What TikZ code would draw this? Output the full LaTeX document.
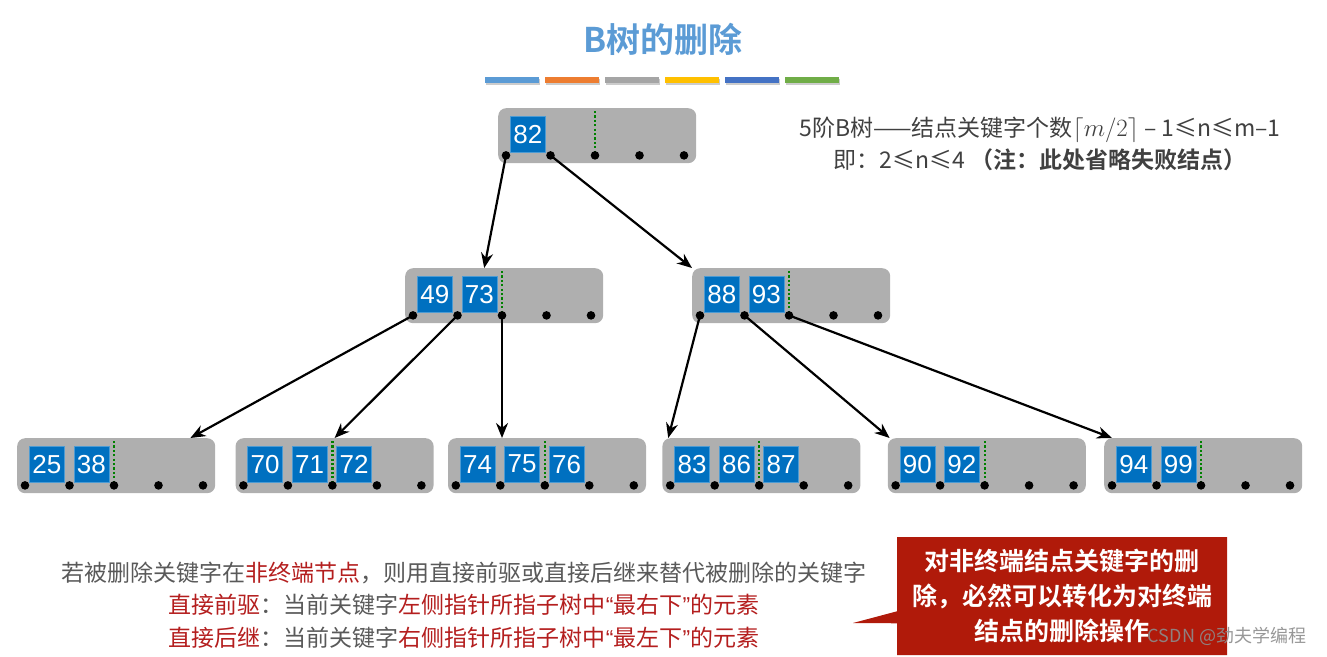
\documentclass[tikz,border=0pt]{standalone}
\usepackage{fontspec}
\setmainfont{Liberation Sans}
\newfontfamily\cjk{Noto Sans CJK SC}[BoldFont={Noto Sans CJK SC Bold}]
\usetikzlibrary{arrows.meta,positioning,shapes.callouts}

\definecolor{titleblue}{RGB}{91,155,213}
\definecolor{barblue}{RGB}{91,155,213}
\definecolor{barorange}{RGB}{237,125,49}
\definecolor{bargray}{RGB}{165,165,165}
\definecolor{baryellow}{RGB}{255,192,0}
\definecolor{bardblue}{RGB}{68,114,196}
\definecolor{bargreen}{RGB}{112,173,71}
\definecolor{nodegray}{RGB}{175,175,175}
\definecolor{keyblue}{RGB}{0,112,192}
\definecolor{sepgreen}{RGB}{0,128,0}
\definecolor{ruletext}{RGB}{64,64,64}
\definecolor{notegray}{RGB}{89,89,89}
\definecolor{notered}{RGB}{180,30,30}
\definecolor{hintred}{RGB}{176,26,10}

% keys, separator and pointer slots of one B-tree node
\newcommand{\btnode}[2]{%
  \foreach \i in {0,...,4}
    \coordinate (#1-p\i) at ([xshift={8pt+\i*44.5pt}, yshift=8pt]#1.south west);
  \draw[sepline] ([yshift=-3pt]#1-p2 |- #1.north) -- (#1-p2);
  \foreach \k [count=\j from 0] in {#2}
    \node[keybox, anchor=south west] (#1-k\j) at ([xshift=4pt, yshift=3pt]#1-p\j) {\k};
  \foreach \i in {0,...,4}
    \fill[ptr] (#1-p\i) circle (4.3pt);
}

\begin{document}
\begin{tikzpicture}[
    x = 1pt, y = -1pt, % pixel grid, y going down
    link/.style = {-{Stealth[length=15pt,width=12pt]}, line width=2.2pt, black}, % child pointers
    txt/.style = {font=\cjk\fontsize{23}{32}\selectfont, align=center, inner sep=0pt}
    ]

    \tikzset{
    bnode/.style = {fill=nodegray, rounded corners=8pt, minimum width=198pt,
      minimum height=55pt, inner sep=0pt},
    keybox/.style = {fill=keyblue, draw=keyblue!70!white, line width=0.6pt, text=white,
      minimum width=35pt, minimum height=36pt, inner sep=0pt,
      font=\fontsize{26}{26}\selectfont},
    sepline/.style = {sepgreen, line width=2.2pt, dash pattern=on 2.2pt off 2.2pt},
    ptr/.style = {black},
    calloutbox/.style = {rectangle callout, fill=hintred, text=white, align=center,
      font=\cjk\bfseries\fontsize{25}{35}\selectfont, minimum width=330pt,
      minimum height=118pt, inner sep=0pt, callout pointer width=12pt}
    }
    \useasboundingbox (0,0) rectangle (1327,656);

    \node[font=\cjk\bfseries\fontsize{34}{34}\selectfont, text=titleblue] (title) at (663,39) {B树的删除};
    \foreach \c [count=\i from 0] in {barblue,barorange,bargray,baryellow,bardblue,bargreen} {
      \fill[black!20] (486+60*\i,78.5) rectangle ++(54,6);
      \fill[\c] (485+60*\i,77) rectangle ++(54,6);
    }

    \node[txt, text=ruletext] (rule) at (1040,144)
      {5阶B树——结点关键字个数$\lceil m/2\rceil$ – 1≤n≤m–1\\即：2≤n≤4 \textbf{（注：此处省略失败结点）}};

    % the tree
    \node[bnode, anchor=north west] (n82) at (498,108) {};
    \node[bnode, anchor=north west] (n4973) at (405,268) {};
    \node[bnode, anchor=north west] (n8893) at (692,268) {};
    \node[bnode, anchor=north west] (n2538) at (17,438) {};
    \node[bnode, right=20pt of n2538] (n707172) {};
    \node[bnode, right=14pt of n707172] (n747576) {};
    \node[bnode, right=16pt of n747576] (n838687) {};
    \node[bnode, right=27pt of n838687] (n9092) {};
    \node[bnode, right=18pt of n9092] (n9499) {};

    \btnode{n82}{82}
    \btnode{n4973}{49,73}
    \btnode{n8893}{88,93}
    \btnode{n2538}{25,38}
    \btnode{n707172}{70,71,72}
    \btnode{n747576}{74,75,76}
    \btnode{n838687}{83,86,87}
    \btnode{n9092}{90,92}
    \btnode{n9499}{94,99}

    \draw[link] (n82-p0) -- ([xshift=-20pt]n4973.north);
    \draw[link] (n82-p1) -- (n8893.north west);
    \draw[link] (n4973-p0) -- ([xshift=-25pt]n2538.north east);
    \draw[link] (n4973-p1) -- (n707172.north);
    \draw[link] (n4973-p2) -- (n4973-p2 |- n747576.north);
    \draw[link] (n8893-p0) -- ([xshift=6pt]n838687.north west);
    \draw[link] (n8893-p1) -- ([xshift=2pt]n9092.north west);
    \draw[link] (n8893-p2) -- ([xshift=8pt]n9499.north west);

    \node[txt, text=notegray, font=\cjk\fontsize{23}{32.5}\selectfont] (note) at (464,605)
      {若被删除关键字在\textcolor{notered}{非终端节点}，则用直接前驱或直接后继来替代被删除的关键字\\
       \textcolor{notered}{直接前驱}：当前关键字\textcolor{notered}{左侧指针所指子树中\textrm{“}最右下\textrm{”}的元素}\\
       \textcolor{notered}{直接后继}：当前关键字\textcolor{notered}{右侧指针所指子树中\textrm{“}最左下\textrm{”}的元素}};

    \node[calloutbox, callout absolute pointer={(853,623)}] (hint) at (1062,596)
      {对非终端结点关键字的删\\除，必然可以转化为对终端\\结点的删除操作};

    \node[font=\cjk\fontsize{18}{18}\selectfont, text=black!45, opacity=0.9] (mark) at (1227,636) {CSDN @劲夫学编程};
\end{tikzpicture}
\end{document}
